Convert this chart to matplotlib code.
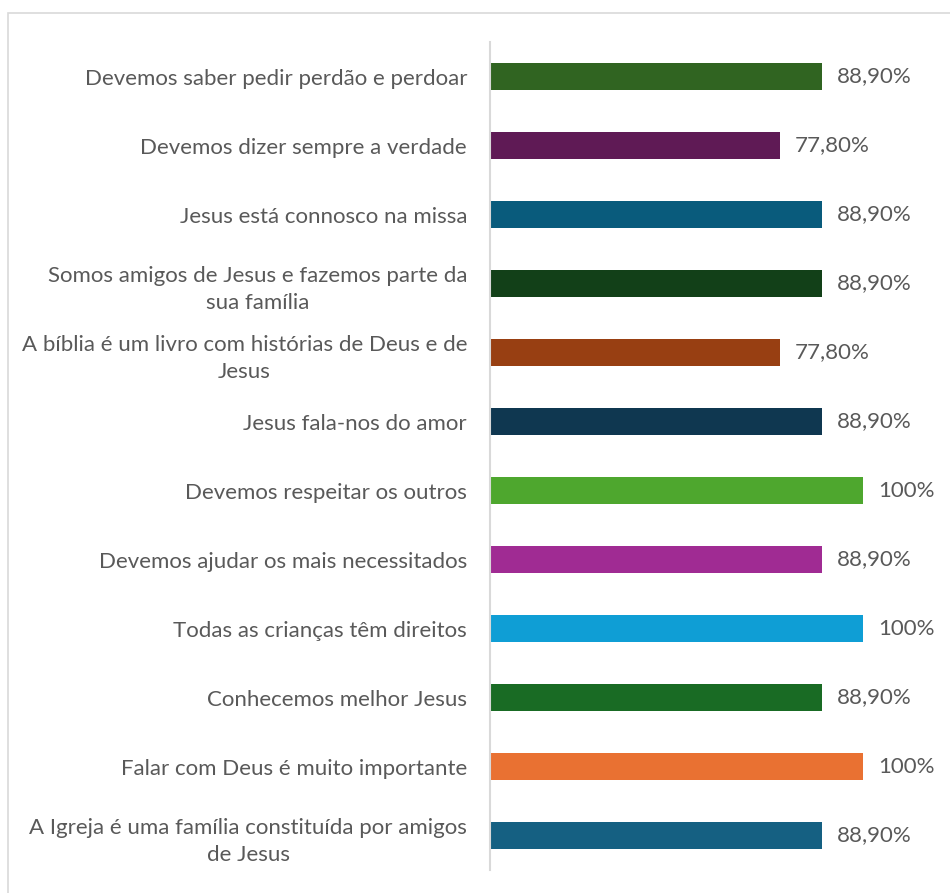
import matplotlib.pyplot as plt
from matplotlib.patches import Rectangle

# categorias de cima para baixo
categorias = [
    "Devemos saber pedir perdão e perdoar",
    "Devemos dizer sempre a verdade",
    "Jesus está connosco na missa",
    "Somos amigos de Jesus e fazemos parte da\nsua família",
    "A bíblia é um livro com histórias de Deus e de\nJesus",
    "Jesus fala-nos do amor",
    "Devemos respeitar os outros",
    "Devemos ajudar os mais necessitados",
    "Todas as crianças têm direitos",
    "Conhecemos melhor Jesus",
    "Falar com Deus é muito importante",
    "A Igreja é uma família constituída por amigos\nde Jesus",
]
valores = [88.9, 77.8, 88.9, 88.9, 77.8, 88.9, 100, 88.9, 100, 88.9, 100, 88.9]
cores = [
    "#306421", "#5F1A55", "#095B7C", "#124018", "#983F12", "#0F3750",
    "#4EA72E", "#A02B93", "#0F9ED5", "#196B24", "#E97132", "#156082",
]

plt.rcParams['font.family'] = ['Lato', 'DejaVu Sans']
cinza = "#595959"

fig = plt.figure(figsize=(9.5, 8.93), dpi=100)
fig.patches.append(Rectangle((8 / 950, -0.1), 1.2, 1 - 13 / 893 + 0.1,
                             transform=fig.transFigure, fill=False,
                             edgecolor="#d9d9d9", linewidth=1.2))

ax = fig.add_axes([490 / 950, 1 - 870 / 893, 373 / 950, 828 / 893])
pos = list(range(len(categorias)))
ax.barh(pos, valores, height=0.4, color=cores)
ax.set_ylim(len(categorias) - 0.5, -0.5)
ax.set_xlim(0, 100)

for y, v in zip(pos, valores):
    txt = "100%" if v == 100 else f"{v:.2f}%".replace(".", ",")
    ax.text(v + 4, y, txt, va="center", ha="left", fontsize=16, color=cinza)

ax.set_yticks(pos)
ax.set_yticklabels(categorias, fontsize=16, color=cinza,
                   multialignment="center", linespacing=1.45)
ax.tick_params(axis="y", length=0, pad=16.5)
ax.set_xticks([])
for s in ["top", "right", "bottom"]:
    ax.spines[s].set_visible(False)
ax.spines["left"].set_color("#d9d9d9")
ax.spines["left"].set_linewidth(1.5)

fig.savefig("out.png", dpi=100)
